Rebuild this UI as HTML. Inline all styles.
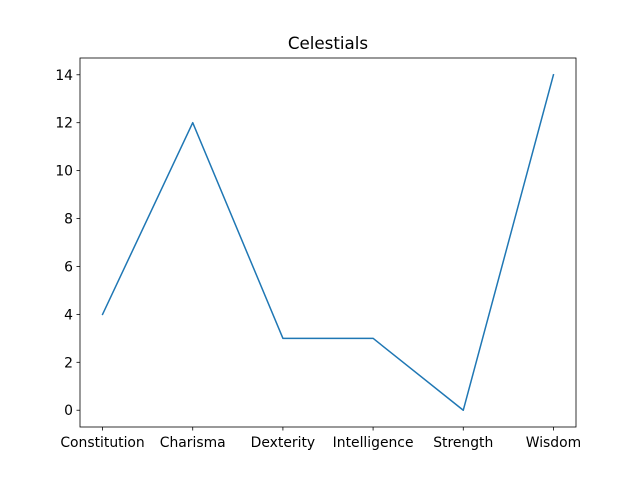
<!DOCTYPE html>
<html><head><meta charset="utf-8"><style>
html,body{margin:0;padding:0;background:#fff;}
svg{display:block;font-family:"DejaVu Sans","Liberation Sans",sans-serif;}
</style></head><body>
<svg id="chart" width="640" height="480">
<rect x="0" y="0" width="640" height="480" fill="#fff"/>
<text x="328" y="49" text-anchor="middle" font-size="16.7" fill="#000">Celestials</text>
<g id="xticks"></g>
<g id="yticks"></g>
<g id="series"></g>
<rect x="80" y="58" width="496" height="369" fill="none" stroke="#000" stroke-width="0.8"/>
</svg>
<script>
const categories = ["Constitution","Charisma","Dexterity","Intelligence","Strength","Wisdom"];
const values = [4,12,3,3,0,14];
const yTicks = [0,2,4,6,8,10,12,14];
const NS="http://www.w3.org/2000/svg";
const L=80,R=576,T=58,B=427;
const xMin=-0.25,xMax=categories.length-1+0.25;
const vMin=Math.min(...values),vMax=Math.max(...values),pad=(vMax-vMin)*0.05;
const yMin=vMin-pad,yMax=vMax+pad;
function xs(i){return L+(i-xMin)/(xMax-xMin)*(R-L);}
function ys(v){return B-(v-yMin)/(yMax-yMin)*(B-T);}
function mk(tag,attrs,parent){const e=document.createElementNS(NS,tag);for(const k in attrs)e.setAttribute(k,attrs[k]);parent.appendChild(e);return e;}
const xg=document.getElementById('xticks'),yg=document.getElementById('yticks'),sg=document.getElementById('series');
categories.forEach((c,i)=>{
  const x=xs(i);
  const t=mk('line',{x1:x,x2:x,y1:B,y2:B+3.5,stroke:'#000','stroke-width':0.8},xg);
  
  
  const l=mk('text',{x:x,y:B+20,'text-anchor':'middle','font-size':13.9,fill:'#000'},xg);
  l.textContent=c;
  
  
});
yTicks.forEach(v=>{
  const y=ys(v);
  const t=mk('line',{x1:L-3.5,x2:L,y1:y,y2:y,stroke:'#000','stroke-width':0.8},yg);
  
  
  const l=mk('text',{x:L-7,y:y+5,'text-anchor':'end','font-size':13.9,fill:'#000'},yg);
  l.textContent=v;
  
  
});
const pts=values.map((v,i)=>xs(i)+','+ys(v)).join(' ');
const pl=mk('polyline',{points:pts,fill:'none',stroke:'#1f77b4','stroke-width':1.5,'stroke-linejoin':'round','stroke-linecap':'square'},sg);


</script>
</body></html>
